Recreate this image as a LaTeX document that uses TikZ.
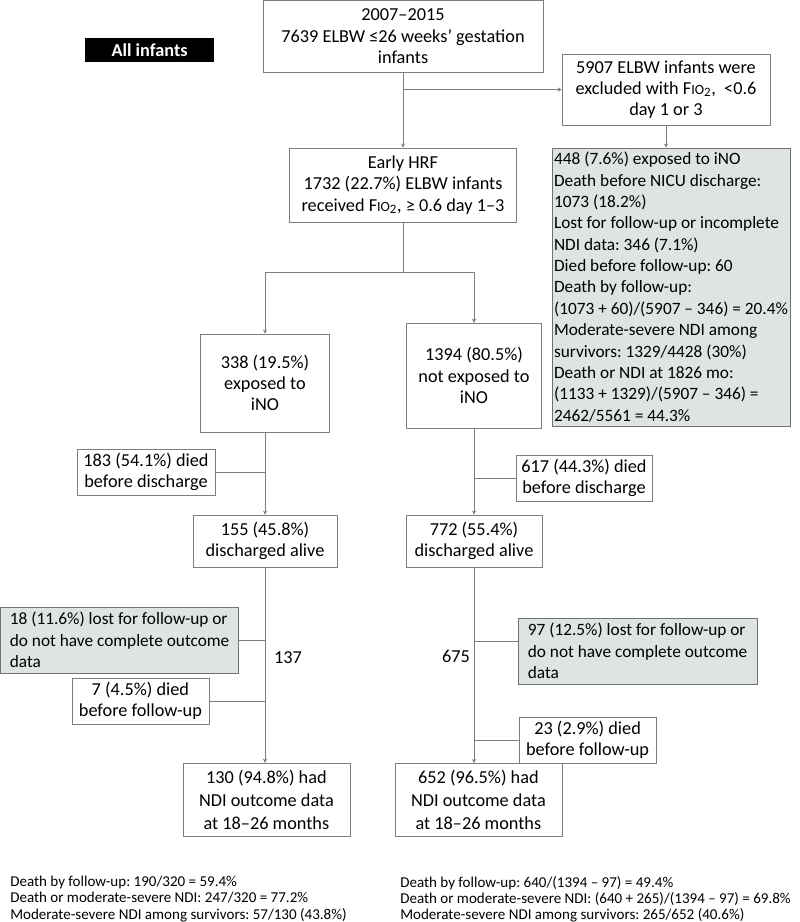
\documentclass[tikz,border=0pt]{standalone}
\usepackage{fontspec}
\setmainfont{Carlito}
\usepackage{xcolor}
\usepackage{tikz}
\usetikzlibrary{arrows.meta}

\definecolor{linegrey}{RGB}{125,125,125}
\definecolor{boxgrey}{RGB}{222,227,227}
\newcommand{\fio}{F{\fontsize{10}{10}\selectfont IO}\textsubscript{2}}

\tikzset{
	flowbox/.style={draw=linegrey, rectangle, inner sep=0pt, align=center},
	notebox/.style={draw=linegrey!90!black, fill=boxgrey, rectangle, inner sep=0pt, align=left, font=\fontsize{12.3}{15.2}\selectfont},
	flowline/.style={draw=linegrey, line width=0.5pt},
	>={Stealth[length=3pt,width=3pt]}
}

\begin{document}
\frenchspacing
\begin{tikzpicture}[font=\fontsize{13}{15.2}\selectfont]
	\useasboundingbox (0,0) rectangle (20,23.05);

	\node[fill=black, text=white, font=\fontsize{13}{15}\selectfont\bfseries, minimum width=3.225cm, minimum height=0.6cm, inner sep=0pt] (allinf) at (3.74,21.8) {All infants};
	\node[flowbox, minimum width=7cm, minimum height=1.8cm] (top) at (10.075,22.14) {2007--2015\\7639 ELBW ≤26 weeks' gestation\\infants};
	\node[flowbox, minimum width=5.2cm, minimum height=1.775cm] (excl) at (16.65,20.81) {5907 ELBW infants were\\excluded with \fio, \ <0.6\\day 1 or 3};
	\node[flowbox, minimum width=5.675cm, minimum height=1.85cm] (hrf) at (10.075,18.425) {Early HRF\\1732 (22.7\%) ELBW infants\\received \fio, ≥ 0.6 day 1--3};
	\node[notebox, minimum width=5.95cm, minimum height=6.95cm] (others) at (16.775,15.875) {448 (7.6\%) exposed to iNO\\Death before NICU discharge:\\1073 (18.2\%)\\Lost for follow-up or incomplete\\NDI data: 346 (7.1\%)\\Died before follow-up: 60\\Death by follow-up:\\(1073 + 60)/(5907 -- 346) = 20.4\%\\Moderate-severe NDI among\\survivors: 1329/4428 (30\%)\\Death or NDI at 1826 mo:\\(1133 + 1329)/(5907 -- 346) =\\2462/5561 = 44.3\%};

	\node[flowbox, minimum width=3.225cm, minimum height=2.45cm] (ino) at (6.625,13.475) {338 (19.5\%)\\exposed to\\iNO};
	\node[flowbox, minimum width=3.375cm, minimum height=2.625cm] (noino) at (11.85,13.66) {1394 (80.5\%)\\not exposed to\\iNO};

	\node[flowbox, minimum width=3.45cm, minimum height=1.15cm] (died1) at (3.65,11.25) {183 (54.1\%) died\\before discharge};
	\node[flowbox, minimum width=3.4cm, minimum height=1.15cm] (died2) at (14.6,11.1) {617 (44.3\%) died\\before discharge};
	\node[flowbox, minimum width=3.6cm, minimum height=1.3cm] (dis1) at (6.625,9.525) {155 (45.8\%)\\discharged alive};
	\node[flowbox, minimum width=3.4cm, minimum height=1.3cm] (dis2) at (11.85,9.525) {772 (55.4\%)\\discharged alive};

	\node[notebox, minimum width=5.95cm, minimum height=1.65cm] (lost1) at (2.99,7.05) {18 (11.6\%) lost for follow-up or\\do not have complete outcome\\data};
	\node (n137) at (7.2,6.6) {137};
	\node[flowbox, minimum width=3.425cm, minimum height=1.15cm] (fu1) at (3.51,5.525) {7 (4.5\%) died\\before follow-up};
	\node[flowbox, minimum width=4.175cm, minimum height=1.825cm, font=\fontsize{13}{16.4}\selectfont] (out1) at (6.66,3.06) {130 (94.8\%) had\\NDI outcome data\\at 18--26 months};

	\node[notebox, minimum width=5.975cm, minimum height=1.65cm] (lost2) at (15.94,6.775) {97 (12.5\%) lost for follow-up or\\do not have complete outcome\\data};
	\node (n675) at (11.4,6.65) {675};
	\node[flowbox, minimum width=3.425cm, minimum height=1.15cm] (fu2) at (14.69,4.55) {23 (2.9\%) died\\before follow-up};
	\node[flowbox, minimum width=4.175cm, minimum height=1.825cm, font=\fontsize{13}{16.4}\selectfont] (out2) at (11.96,3.05) {652 (96.5\%) had\\NDI outcome data\\at 18--26 months};

	\node[anchor=north west, inner sep=0pt, align=left, font=\fontsize{10.7}{11.5}\selectfont] (sum1) at (0.25,1.15) {Death by follow-up: 190/320 = 59.4\%\\Death or moderate-severe NDI: 247/320 = 77.2\%\\Moderate-severe NDI among survivors: 57/130 (43.8\%)};
	\node[anchor=north west, inner sep=0pt, align=left, font=\fontsize{10.7}{11.5}\selectfont] (sum2) at (10,1.15) {Death by follow-up: 640/(1394 -- 97) = 49.4\%\\Death or moderate-severe NDI: (640 + 265)/(1394 -- 97) = 69.8\%\\Moderate-severe NDI among survivors: 265/652 (40.6\%)};

	\draw[flowline, ->] (top.south) -- (hrf.north);
	\draw[flowline, ->] (top.south |- excl.west) -- (excl.west);
	\draw[flowline, ->] (excl.south) -- (excl.south |- others.north);
	\draw[flowline] (hrf.south) -- ++(0,-1.25) coordinate (split);
	\draw[flowline, ->] (split) -| (ino.north);
	\draw[flowline, ->] (split) -| (noino.north);

	\draw[flowline, ->] (ino.south) -- (dis1.north);
	\draw[flowline] (died1.east) -- (died1.east -| ino.south);
	\draw[flowline, ->] (noino.south) -- (dis2.north);
	\draw[flowline] (died2.west) -- (died2.west -| noino.south);

	\draw[flowline, ->] (dis1.south) -- (dis1.south |- out1.north);
	\draw[flowline] (lost1.east) -- (lost1.east -| dis1.south);
	\draw[flowline] (fu1.east) -- (fu1.east -| dis1.south);
	\draw[flowline, ->] (dis2.south) -- (dis2.south |- out2.north);
	\draw[flowline] ([yshift=0.25cm]lost2.west) -- ([yshift=0.25cm]lost2.west -| dis2.south);
	\draw[flowline] (fu2.west) -- (fu2.west -| dis2.south);
\end{tikzpicture}
\end{document}
